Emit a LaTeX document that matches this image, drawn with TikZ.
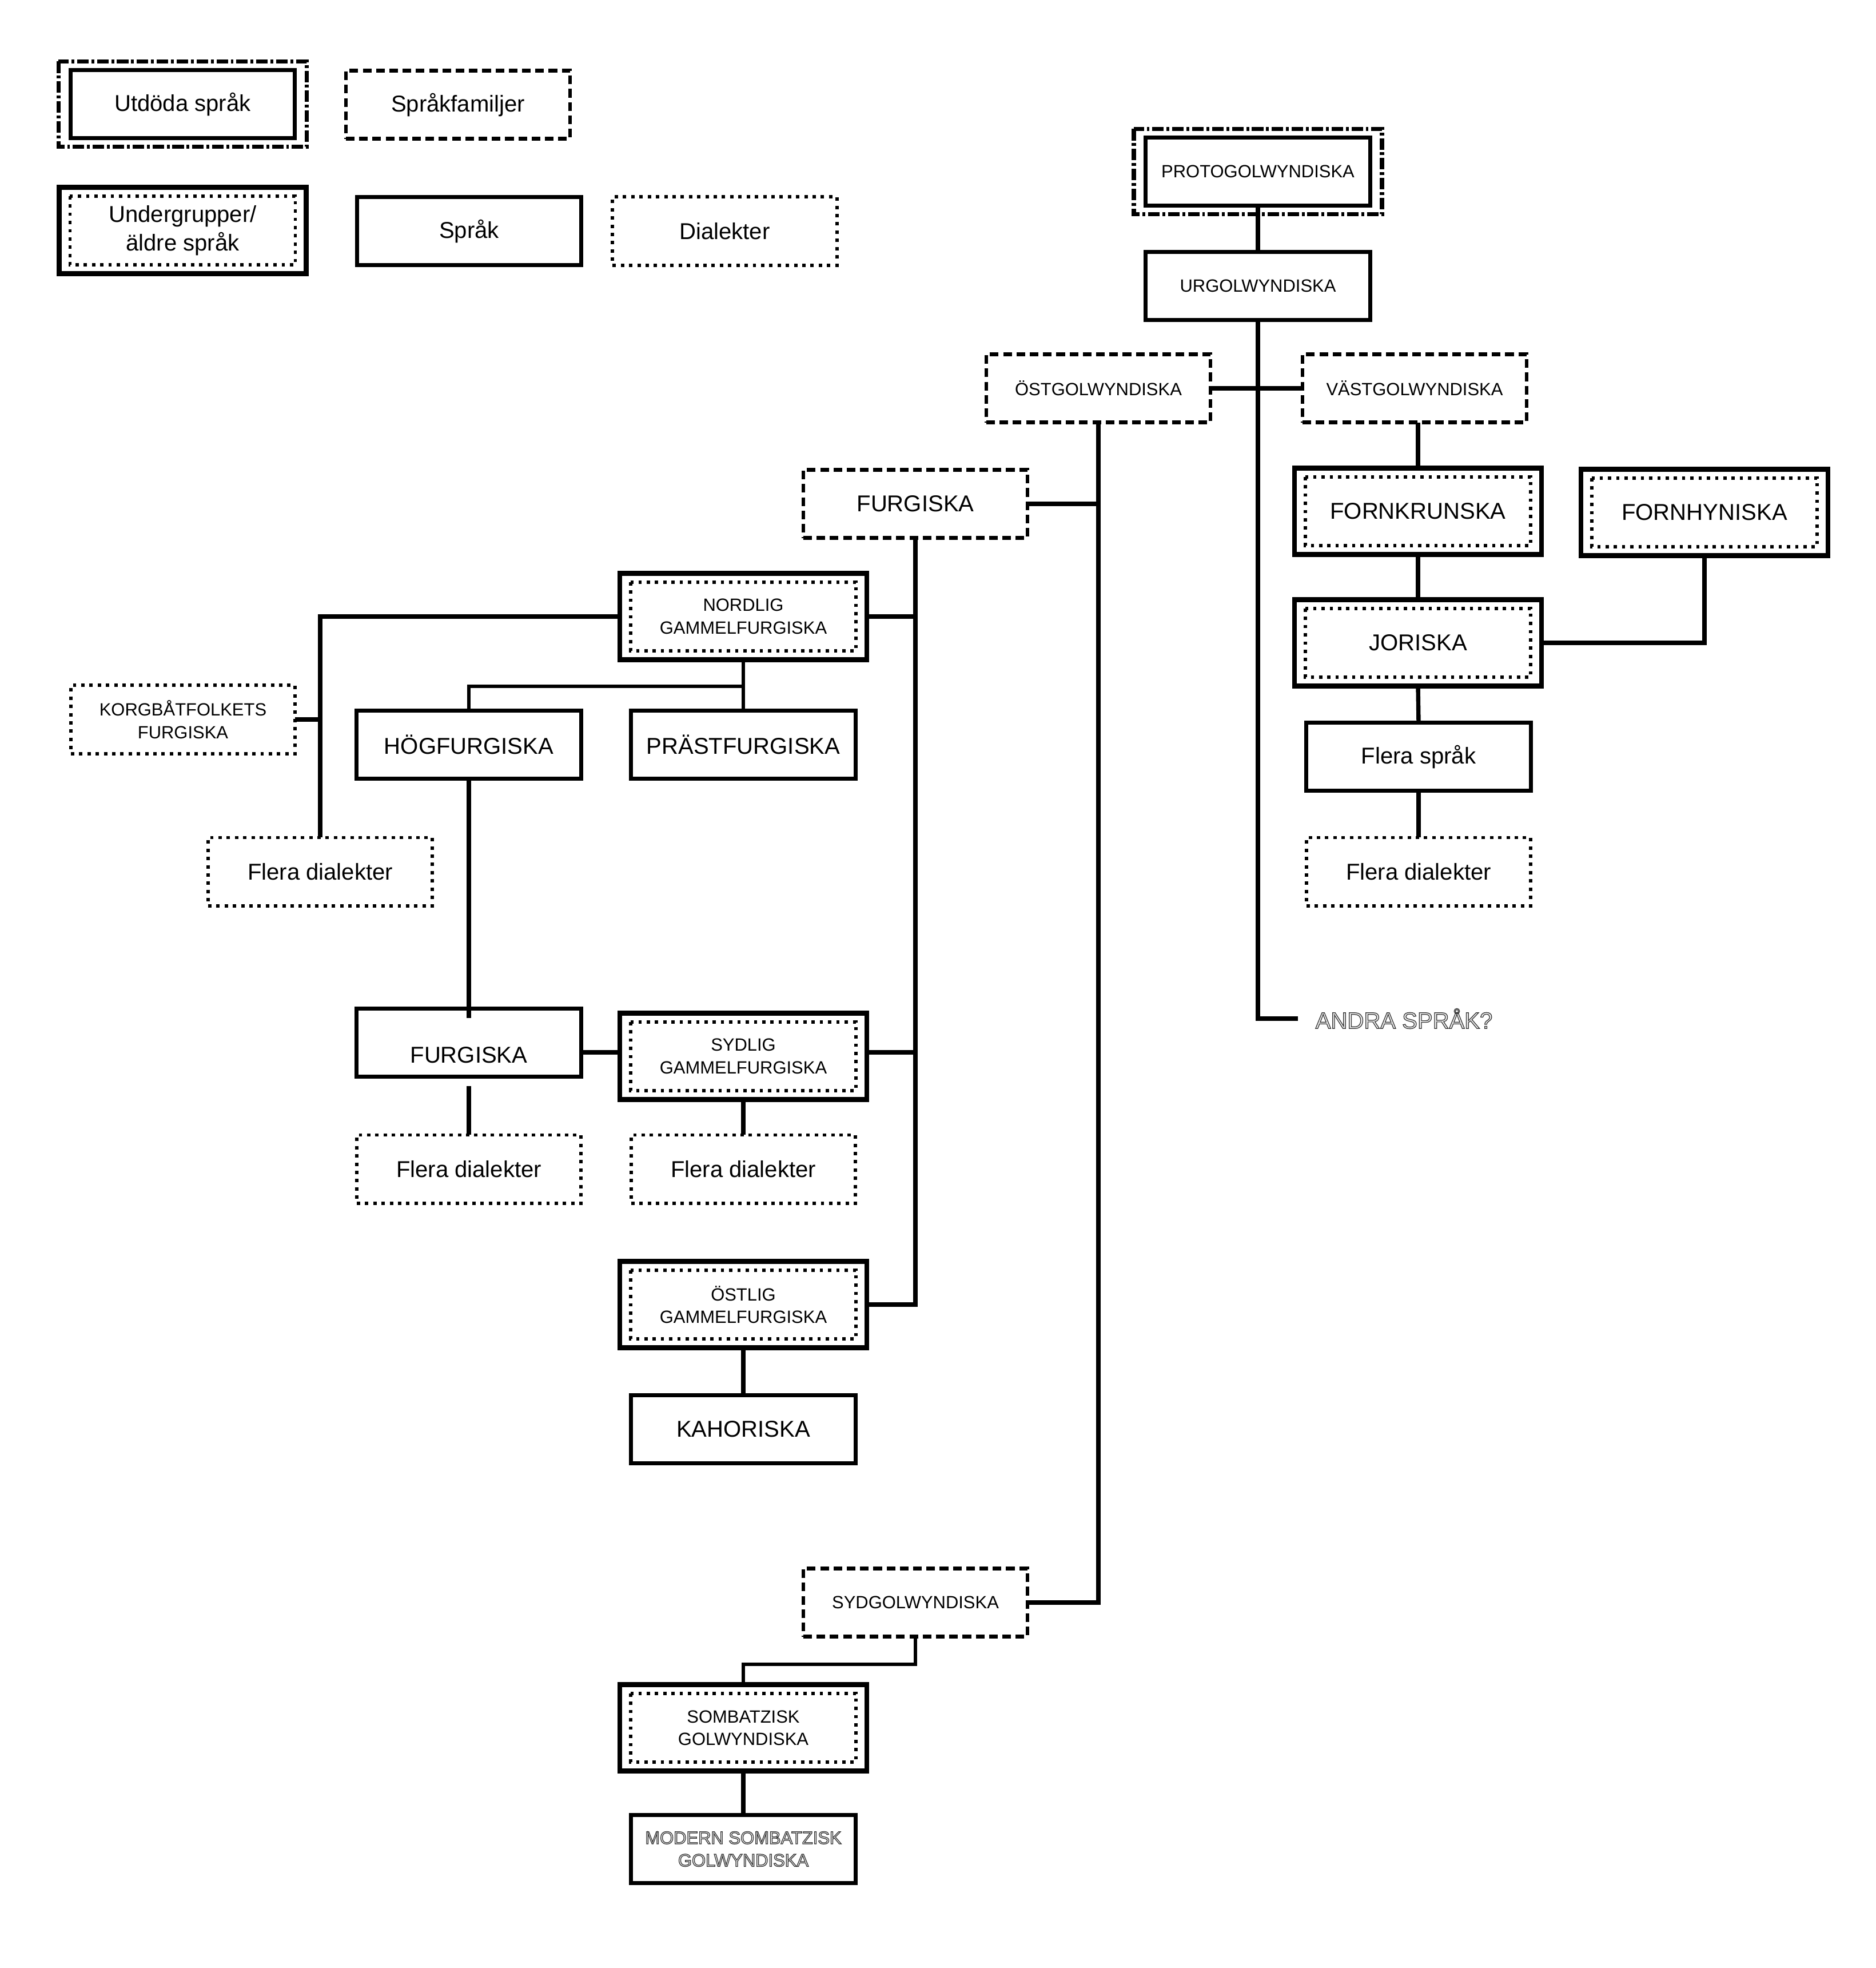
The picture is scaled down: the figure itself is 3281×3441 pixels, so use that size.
\documentclass[tikz,border=0pt]{standalone}
\usepackage{fontspec}
\setmainfont{Liberation Sans}
\definecolor{outfill}{HTML}{EDEDED}
\newcommand{\outl}[1]{{\color{outfill}\special{pdf:literal direct 2 Tr 0.35 w 0.2 G}#1\special{pdf:literal direct 0 Tr}}}
\tikzset{
  lbl/.style={font=\fontsize{11.4}{14.2}\selectfont, align=center},
  sml/.style={font=\fontsize{8.8}{11.2}\selectfont, align=center},
  boxbase/.style={outer sep=0pt, inner sep=0pt, minimum width=3.92cm, minimum height=1.19cm},
  sprak/.style={boxbase, draw, line width=2pt},
  fam/.style={boxbase, draw, line width=1.8pt, dash pattern=on 4.3pt off 2.3pt},
  dial/.style={boxbase, draw, line width=1.7pt, dash pattern=on 1.7pt off 2.4pt},
  ext/.style={boxbase, draw, line width=2pt},
  sub/.style={boxbase, draw, line width=2.4pt, minimum width=4.32cm, minimum height=1.51cm},
  innerdots/.style={line width=1.6pt, dash pattern=on 1.6pt off 2.5pt},
  outerdashdot/.style={line width=2.1pt, dash pattern=on 5.7pt off 1.4pt on 1.4pt off 1.4pt},
  conn/.style={line width=2.1pt},
  thinconn/.style={line width=1.5pt},
}
\begin{document}
\begin{tikzpicture}[x=0.01cm,y=-0.01cm]
\useasboundingbox[fill=white] (0,0) rectangle (3281,3441);

% legend
\node[ext,lbl] (lgext) at (319.5,182) {Utdöda språk};
\node[fam,lbl] (lgfam) at (801,183) {Språkfamiljer};
\node[sub,lbl] (lgsub) at (319.5,403) {Undergrupper/\\äldre språk};
\node[sprak,lbl] (lgsprak) at (820.5,404) {Språk};
\node[dial,lbl] (lgdial) at (1267.5,404) {Dialekter};

% tree
\node[ext,sml] (proto) at (2200,300) {PROTOGOLWYNDISKA};
\node[sprak,sml] (urgol) at (2200,500) {URGOLWYNDISKA};
\node[fam,sml] (ost) at (1921,679) {ÖSTGOLWYNDISKA};
\node[fam,sml] (vast) at (2474,679) {VÄSTGOLWYNDISKA};
\node[fam,lbl] (furg1) at (1601,881) {FURGISKA};
\node[sub,lbl] (fornk) at (2480,894) {FORNKRUNSKA};
\node[sub,lbl] (fornh) at (2981,896) {FORNHYNISKA};
\node[sub,sml] (nord) at (1300,1078) {NORDLIG\\GAMMELFURGISKA};
\node[sub,lbl] (jor) at (2480,1124) {JORISKA};
\node[dial,sml] (korg) at (320,1258) {KORGBÅTFOLKETS\\FURGISKA};
\node[sprak,lbl] (hog) at (820,1302) {HÖGFURGISKA};
\node[sprak,lbl] (prast) at (1300,1302) {PRÄSTFURGISKA};
\node[sprak,lbl] (flsp) at (2481,1323) {Flera språk};
\node[dial,lbl] (fdl) at (560,1524) {Flera dialekter};
\node[dial,lbl] (fdr) at (2481,1524) {Flera dialekter};
\node[lbl, anchor=west, inner xsep=0.3cm, inner ysep=0pt] (andra) at (2270,1781) {\outl{ANDRA SPRÅK?}};
\node[sprak,lbl,text height=20.2pt,text depth=0pt] (furg2) at (820,1823) {FURGISKA};
\node[sub,sml] (syd) at (1300,1847) {SYDLIG\\GAMMELFURGISKA};
\node[dial,lbl] (fdml) at (820,2044) {Flera dialekter};
\node[dial,lbl] (fdm) at (1300,2044) {Flera dialekter};
\node[sub,sml] (ostl) at (1300,2281) {ÖSTLIG\\GAMMELFURGISKA};
\node[sprak,lbl] (kah) at (1300,2499) {KAHORISKA};
\node[fam,sml] (sydg) at (1601,2802) {SYDGOLWYNDISKA};
\node[sub,sml] (somb) at (1300,3021) {SOMBATZISK\\GOLWYNDISKA};
\node[sprak,sml] (mod) at (1300,3233) {\outl{MODERN SOMBATZISK}\\\outl{GOLWYNDISKA}};

% double borders
\foreach \n in {lgext,proto}
  \draw[outerdashdot] ([shift={(-21,-15)}]\n.north west) rectangle ([shift={(21,15)}]\n.south east);
\foreach \n in {lgsub,fornk,fornh,nord,jor,syd,ostl,somb}
  \draw[innerdots] ([shift={(19,15.5)}]\n.north west) rectangle ([shift={(-19,-15.5)}]\n.south east);

% connectors
\draw[conn] (proto.south) -- (urgol.north);
\draw[conn] (urgol.south) |- (andra.west);
\draw[conn] (ost.east) -- (ost.east -| vast.west);
\draw[conn] (ost.south) |- (sydg.east);
\draw[conn] (furg1.east) -- (furg1.east -| ost.south);
\draw[conn] (fornk.north) -- (fornk.north |- vast.south);
\draw[conn] (fornk.south) -- (jor.north);
\draw[conn] (fornh.south) |- (jor.east);
\draw[conn] (jor.south) -- (flsp.north);
\draw[conn] (flsp.south) -- (fdr.north);
\draw[conn] (furg1.south) |- (ostl.east);
\draw[conn] (nord.east) -- (nord.east -| furg1.south);
\draw[conn] ([yshift=2pt]syd.east) -- ([yshift=2pt]syd.east -| furg1.south);
\draw[conn] (nord.west) -| (fdl.north);
\draw[conn] (korg.east) -- (korg.east -| fdl.north);
\coordinate (nj) at (1300,1200);
\draw[thinconn] (nord.south) -- (nj) -| (hog.north);
\draw[thinconn] (nj) -- (prast.north);
\draw[conn] (hog.south) -- ([yshift=-4.8pt]furg2.north);
\draw[conn] ([yshift=2pt]syd.west) -- ([yshift=2pt]syd.west -| furg2.east);
\draw[conn] ([yshift=-4.8pt]furg2.south) -- (fdml.north);
\draw[conn] (syd.south) -- (fdm.north);
\draw[conn] (ostl.south) -- (kah.north);
\coordinate (sj) at (1601,2910);
\draw[thinconn] (sydg.south) -- (sj) -| (somb.north);
\draw[conn] (somb.south) -- (mod.north);
\end{tikzpicture}
\end{document}
